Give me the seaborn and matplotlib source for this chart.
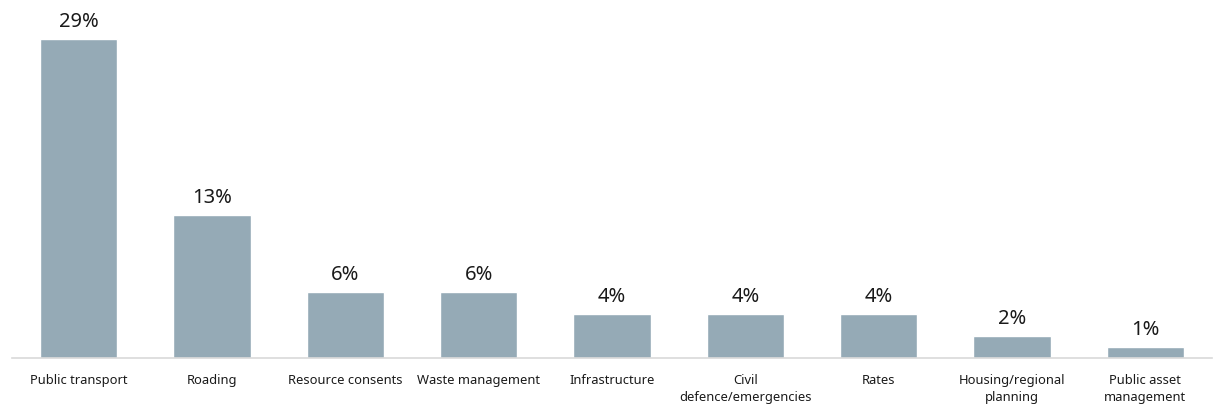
import matplotlib
matplotlib.use("Agg")
import matplotlib.pyplot as plt
import seaborn as sns
import pandas as pd

categories = [
    "Public transport",
    "Roading",
    "Resource consents",
    "Waste management",
    "Infrastructure",
    "Civil\ndefence/emergencies",
    "Rates",
    "Housing/regional\nplanning",
    "Public asset\nmanagement",
]
shares = [29, 13, 6, 6, 4, 4, 4, 2, 1]

sns.set_theme(style="white")
plt.rcParams["font.family"] = ["Noto Sans", "DejaVu Sans"]

df = pd.DataFrame({"category": categories, "share": shares})

fig = plt.figure(figsize=(12.15, 4.06), dpi=100)
ax = fig.add_axes([12 / 1215, 47 / 406, 1200 / 1215, 354 / 406])

sns.barplot(data=df, x="category", y="share", color="#95aab6",
            saturation=1, width=0.58, ax=ax)

ax.set_xlim(-0.5, len(categories) - 0.5)
ax.set_ylim(0, 354 / 11)

for container in ax.containers:
    ax.bar_label(container, labels=[f"{v}%" for v in shares],
                 padding=6, fontsize=14.5, color="#1a1a1a")

ax.set_xlabel("")
ax.set_ylabel("")
ax.set_yticks([])
ax.tick_params(axis="x", length=0, pad=11, labelsize=9.3, labelcolor="#1a1a1a")
for lbl in ax.get_xticklabels():
    lbl.set_verticalalignment("top")
    lbl.set_linespacing(1.4)

for side in ["top", "left", "right"]:
    ax.spines[side].set_visible(False)
ax.spines["bottom"].set_color("#d9d9d9")
ax.spines["bottom"].set_linewidth(1.2)

fig.savefig("out.png", dpi=100, facecolor="white")
